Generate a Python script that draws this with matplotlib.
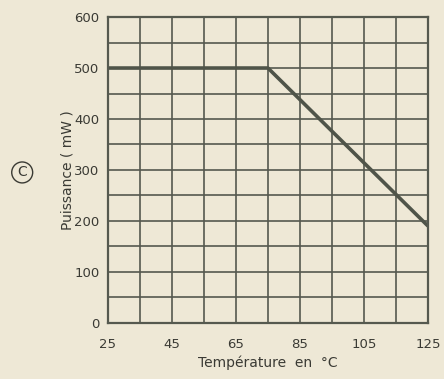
import numpy as np
import matplotlib
matplotlib.use("Agg")
import matplotlib.pyplot as plt

# derating curve
temperature = [25, 75, 125]
puissance = [500, 500, 190]

x_ticks = [25, 45, 65, 85, 105, 125]
y_ticks = [0, 100, 200, 300, 400, 500, 600]

bg = "#eee8d6"
ink = "#55594f"

fig = plt.figure(figsize=(4.44, 3.79), dpi=100, facecolor=bg)
ax = fig.add_axes([0.243, 0.148, 0.721, 0.807], facecolor=bg)

ax.set_xlim(25, 125)
ax.set_ylim(0, 600)

# grid every 10 degC / 50 mW
ax.set_xticks(x_ticks)
ax.set_yticks(y_ticks)
ax.set_xticks(np.arange(25, 126, 10), minor=True)
ax.set_yticks(np.arange(0, 601, 50), minor=True)
ax.grid(which="both", color=ink, linewidth=1.2)
ax.tick_params(which="both", length=0, colors="#3a3a34", labelsize=9.5)
ax.tick_params(axis="x", pad=11)
ax.tick_params(axis="y", pad=6)
for s in ax.spines.values():
    s.set_color(ink)
    s.set_linewidth(1.6)

ax.plot(temperature, puissance, color="#4f5449", linewidth=2.6, solid_capstyle="butt")

ax.set_xlabel("Température  en  °C", fontsize=10, color="#3a3a34", labelpad=3)
ax.set_ylabel("Puissance ( mW )", fontsize=10, color="#3a3a34", labelpad=0)

fig.text(0.05, 0.545, "C", fontsize=10, color="#3a3a34", ha="center", va="center",
         bbox=dict(boxstyle="circle,pad=0.25", fc="none", ec="#3a3a34", lw=1.0))

fig.savefig("out.png", dpi=100, facecolor=bg)
